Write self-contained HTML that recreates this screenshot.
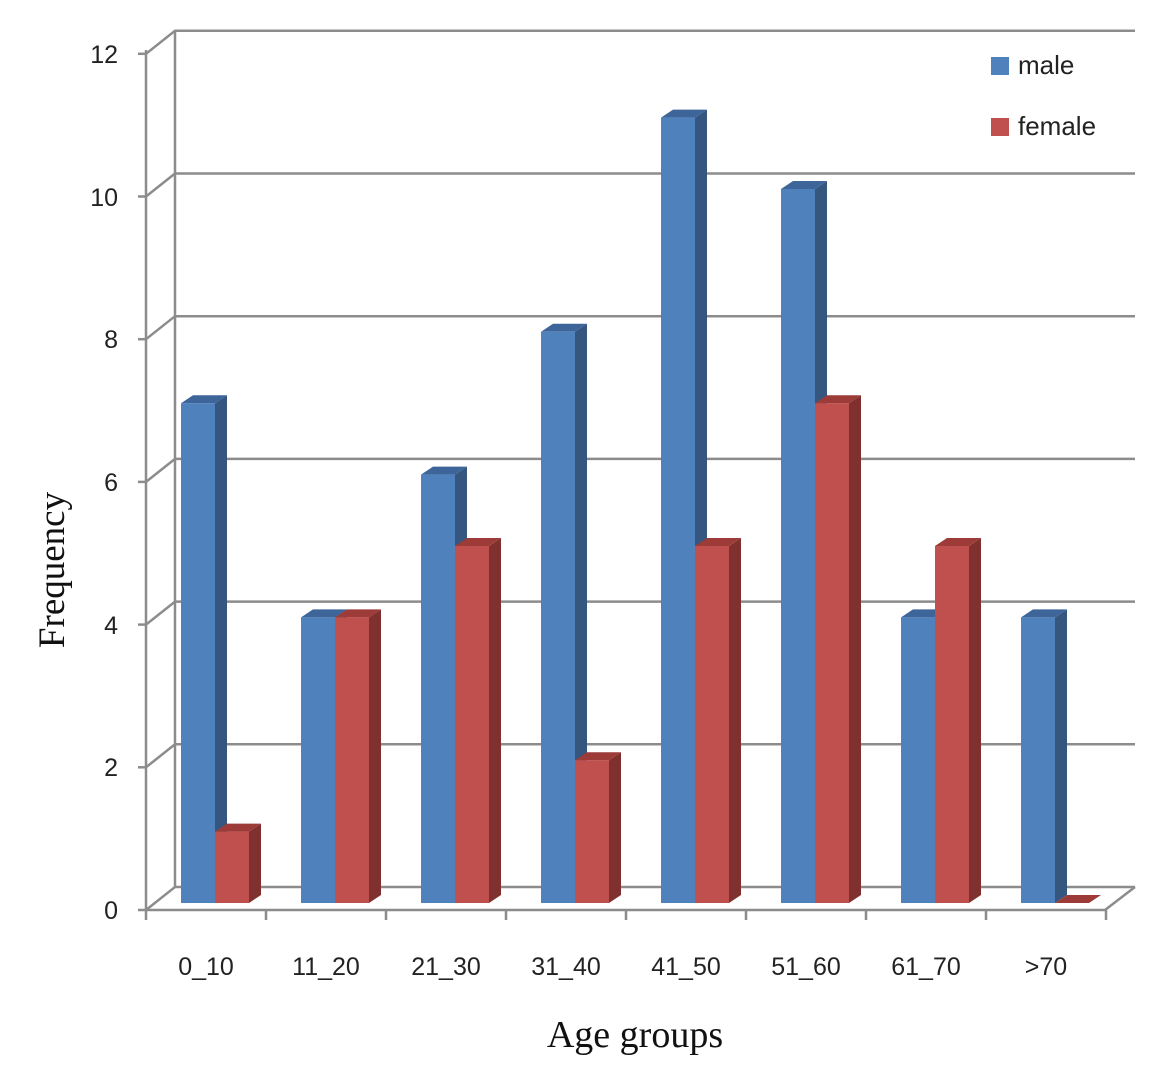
<!DOCTYPE html><html><head><style>body{margin:0;background:#fff}svg{display:block}</style></head><body>
<svg width="1174" height="1086" xmlns="http://www.w3.org/2000/svg" font-family="Liberation Sans, DejaVu Sans, sans-serif">
<g stroke="#8c8c8c" stroke-width="2.5" fill="none">
<polyline points="146,910 175,887 1135,887"/>
<polyline points="146,767.3 175,744.3 1135,744.3"/>
<polyline points="146,624.6 175,601.6 1135,601.6"/>
<polyline points="146,481.9 175,458.9 1135,458.9"/>
<polyline points="146,339.2 175,316.2 1135,316.2"/>
<polyline points="146,196.5 175,173.5 1135,173.5"/>
<polyline points="146,53.8 175,30.8 1135,30.8"/>
<line x1="138" y1="910" x2="146" y2="910"/><line x1="138" y1="767.3" x2="146" y2="767.3"/><line x1="138" y1="624.6" x2="146" y2="624.6"/><line x1="138" y1="481.9" x2="146" y2="481.9"/><line x1="138" y1="339.2" x2="146" y2="339.2"/><line x1="138" y1="196.5" x2="146" y2="196.5"/><line x1="138" y1="53.8" x2="146" y2="53.8"/>
<line x1="146" y1="50" x2="146" y2="920"/>
<line x1="175" y1="31" x2="175" y2="887"/>
<polyline points="146,910 1105,910 1135,887"/>
<line x1="266" y1="910" x2="266" y2="920"/><line x1="386" y1="910" x2="386" y2="920"/><line x1="506" y1="910" x2="506" y2="920"/><line x1="626" y1="910" x2="626" y2="920"/><line x1="746" y1="910" x2="746" y2="920"/><line x1="866" y1="910" x2="866" y2="920"/><line x1="986" y1="910" x2="986" y2="920"/><line x1="1106" y1="910" x2="1106" y2="920"/>
</g>
<g font-size="25" text-anchor="end" fill="#222">
<text x="118" y="919">0</text><text x="118" y="776">2</text><text x="118" y="634">4</text><text x="118" y="491">6</text><text x="118" y="348">8</text><text x="118" y="206">10</text><text x="118" y="63">12</text>
</g>
<g transform="translate(181,403.2)"><polygon points="34,0 46,-8 46,491.8 34,499.8" fill="#34567f"/><polygon points="0,0 12,-8 46,-8 34,0" fill="#3d659a"/><rect width="34" height="499.8" fill="#4f81bd"/></g>
<g transform="translate(301,617.4)"><polygon points="34,0 46,-8 46,277.6 34,285.6" fill="#34567f"/><polygon points="0,0 12,-8 46,-8 34,0" fill="#3d659a"/><rect width="34" height="285.6" fill="#4f81bd"/></g>
<g transform="translate(421,474.6)"><polygon points="34,0 46,-8 46,420.4 34,428.4" fill="#34567f"/><polygon points="0,0 12,-8 46,-8 34,0" fill="#3d659a"/><rect width="34" height="428.4" fill="#4f81bd"/></g>
<g transform="translate(541,331.8)"><polygon points="34,0 46,-8 46,563.2 34,571.2" fill="#34567f"/><polygon points="0,0 12,-8 46,-8 34,0" fill="#3d659a"/><rect width="34" height="571.2" fill="#4f81bd"/></g>
<g transform="translate(661,117.6)"><polygon points="34,0 46,-8 46,777.4 34,785.4" fill="#34567f"/><polygon points="0,0 12,-8 46,-8 34,0" fill="#3d659a"/><rect width="34" height="785.4" fill="#4f81bd"/></g>
<g transform="translate(781,189)"><polygon points="34,0 46,-8 46,706 34,714" fill="#34567f"/><polygon points="0,0 12,-8 46,-8 34,0" fill="#3d659a"/><rect width="34" height="714" fill="#4f81bd"/></g>
<g transform="translate(901,617.4)"><polygon points="34,0 46,-8 46,277.6 34,285.6" fill="#34567f"/><polygon points="0,0 12,-8 46,-8 34,0" fill="#3d659a"/><rect width="34" height="285.6" fill="#4f81bd"/></g>
<g transform="translate(1021,617.4)"><polygon points="34,0 46,-8 46,277.6 34,285.6" fill="#34567f"/><polygon points="0,0 12,-8 46,-8 34,0" fill="#3d659a"/><rect width="34" height="285.6" fill="#4f81bd"/></g>
<g transform="translate(215,831.6)"><polygon points="34,0 46,-8 46,63.4 34,71.4" fill="#80312f"/><polygon points="0,0 12,-8 46,-8 34,0" fill="#9c3b38"/><rect width="34" height="71.4" fill="#c0504d"/></g>
<g transform="translate(335,617.4)"><polygon points="34,0 46,-8 46,277.6 34,285.6" fill="#80312f"/><polygon points="0,0 12,-8 46,-8 34,0" fill="#9c3b38"/><rect width="34" height="285.6" fill="#c0504d"/></g>
<g transform="translate(455,546)"><polygon points="34,0 46,-8 46,349 34,357" fill="#80312f"/><polygon points="0,0 12,-8 46,-8 34,0" fill="#9c3b38"/><rect width="34" height="357" fill="#c0504d"/></g>
<g transform="translate(575,760.2)"><polygon points="34,0 46,-8 46,134.8 34,142.8" fill="#80312f"/><polygon points="0,0 12,-8 46,-8 34,0" fill="#9c3b38"/><rect width="34" height="142.8" fill="#c0504d"/></g>
<g transform="translate(695,546)"><polygon points="34,0 46,-8 46,349 34,357" fill="#80312f"/><polygon points="0,0 12,-8 46,-8 34,0" fill="#9c3b38"/><rect width="34" height="357" fill="#c0504d"/></g>
<g transform="translate(815,403.2)"><polygon points="34,0 46,-8 46,491.8 34,499.8" fill="#80312f"/><polygon points="0,0 12,-8 46,-8 34,0" fill="#9c3b38"/><rect width="34" height="499.8" fill="#c0504d"/></g>
<g transform="translate(935,546)"><polygon points="34,0 46,-8 46,349 34,357" fill="#80312f"/><polygon points="0,0 12,-8 46,-8 34,0" fill="#9c3b38"/><rect width="34" height="357" fill="#c0504d"/></g>
<g transform="translate(1055,903)"><polygon points="0,0 12,-8 46,-8 34,0" fill="#9c3b38"/></g>
<g font-size="25" text-anchor="middle" fill="#222">
<text x="206" y="975">0_10</text><text x="326" y="975">11_20</text><text x="446" y="975">21_30</text><text x="566" y="975">31_40</text><text x="686" y="975">41_50</text><text x="806" y="975">51_60</text><text x="926" y="975">61_70</text><text x="1046" y="975">&gt;70</text>
</g>
<rect x="991" y="57" width="18" height="18" fill="#4f81bd"/><text x="1018" y="74" font-size="26" fill="#222">male</text>
<rect x="991" y="118" width="18" height="18" fill="#c0504d"/><text x="1018" y="135" font-size="26" fill="#222">female</text>
<text x="635" y="1047" font-size="38" text-anchor="middle" font-family="Liberation Serif, serif" fill="#111">Age groups</text>
<text transform="translate(64,570) rotate(-90)" font-size="37" text-anchor="middle" font-family="Liberation Serif, serif" fill="#111">Frequency</text>
</svg></body></html>
